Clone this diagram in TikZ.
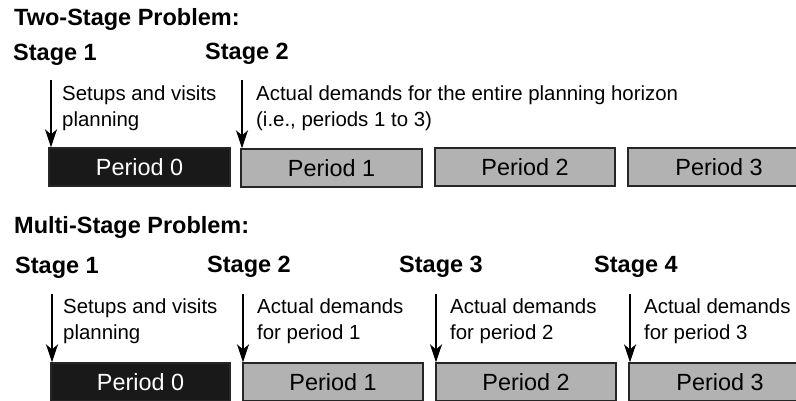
\documentclass[tikz,border=0pt]{standalone}
\usepackage{fontspec}
\setmainfont{Liberation Sans}
\usetikzlibrary{arrows.meta}
\begin{document}
\begin{tikzpicture}[x=1pt,y=-1pt,
  head/.style={anchor=base west,inner sep=0pt,font=\fontsize{23.5pt}{28pt}\selectfont\bfseries},
  desc/.style={anchor=base west,inner sep=0pt,font=\fontsize{20.4pt}{26pt}\selectfont},
  period/.style={draw=black!85,line width=1.3pt,inner sep=0pt,minimum height=38pt,font=\fontsize{23.4pt}{28pt}\selectfont},
  firstbox/.style={period,fill=black!90,text=white},
  laterbox/.style={period,fill=black!30,text=black},
  arr/.style={line width=2pt,-{Stealth[length=18pt,width=12pt,inset=5pt]}}]
\useasboundingbox (0,0) rectangle (796,400);
% ---------- Two-stage ----------
\node[head] (t2) at (14,25) {Two-Stage Problem:};
\node[head] (a1) at (13,60) {Stage 1};
\node[head] (a2) at (205,59) {Stage 2};
\node[desc] (ad1) at (62,100) {Setups and visits};
\node[desc] (ad2) at (62,126) {planning};
\node[desc] (ae1) at (256,100) {Actual demands for the entire planning horizon};
\node[desc] (ae2) at (256,126) {(i.e., periods 1 to 3)};
\node[firstbox,minimum width=181pt] (ap0) at (139.5,167) {Period 0};
\node[laterbox,minimum width=181pt] (ap1) at (331.5,168) {Period 1};
\node[laterbox,minimum width=180pt] (ap2) at (525,167) {Period 2};
\node[laterbox,minimum width=182pt] (ap3) at (719,167) {Period 3};
\coordinate (as1) at (51,80);
\coordinate (as2) at (242,80);
\draw[arr] (as1) -- (as1 |- ap0.north);
\draw[arr] (as2) -- (as2 |- ap1.north);
% ---------- Multi-stage ----------
\node[head] (tm) at (14,233) {Multi-Stage Problem:};
\node[head] (b1) at (15,273) {Stage 1};
\node[head] (b2) at (207,272) {Stage 2};
\node[head] (b3) at (399,272) {Stage 3};
\node[head] (b4) at (594,272) {Stage 4};
\node[desc] (bd1) at (63,313) {Setups and visits};
\node[desc] (bd2) at (63,339) {planning};
\node[desc] (be1) at (257,313) {Actual demands};
\node[desc] (be2) at (257,339) {for period 1};
\node[desc] (bf1) at (450,313) {Actual demands};
\node[desc] (bf2) at (450,339) {for period 2};
\node[desc] (bg1) at (644,313) {Actual demands};
\node[desc] (bg2) at (644,339) {for period 3};
\node[firstbox,minimum width=179pt] (bp0) at (140.5,382) {Period 0};
\node[laterbox,minimum width=180pt] (bp1) at (333,382) {Period 1};
\node[laterbox,minimum width=180pt] (bp2) at (526,382) {Period 2};
\node[laterbox,minimum width=182pt] (bp3) at (720,382) {Period 3};
\coordinate (bs1) at (52,294);
\coordinate (bs2) at (243,294);
\coordinate (bs3) at (436,294);
\coordinate (bs4) at (630,294);
\draw[arr] (bs1) -- (bs1 |- bp0.north);
\draw[arr] (bs2) -- (bs2 |- bp1.north);
\draw[arr] (bs3) -- (bs3 |- bp2.north);
\draw[arr] (bs4) -- (bs4 |- bp3.north);
\end{tikzpicture}
\end{document}
